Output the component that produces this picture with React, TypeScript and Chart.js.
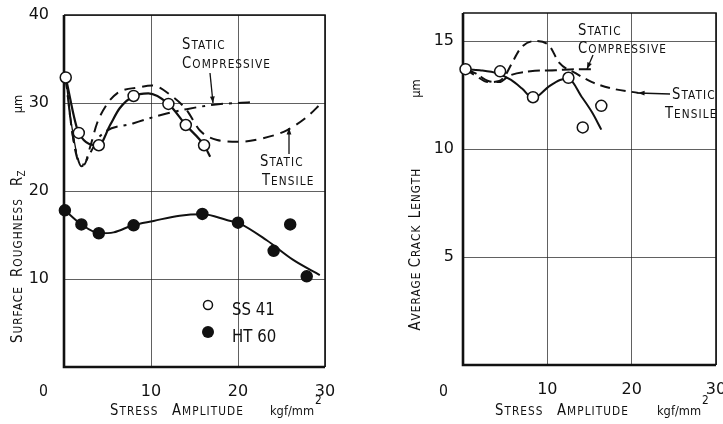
import React, { useEffect, useRef } from "react";
import { Chart, registerables } from "chart.js";

Chart.register(...registerables);

const FONT = '"DejaVu Sans", sans-serif';
const INK = "#111";
const SQUEEZE = 0.88;

// ---------- shared axis ticks ----------
const stressTicks = [10, 20, 30];
const roughTicks = [10, 20, 30, 40];
const crackTicks = [5, 10, 15];

// ---------- left panel: surface roughness Rz (μm) ----------
const ss41StressR = [0.2, 1.7, 4.0, 8.0, 12.0, 14.0, 16.1];
const ss41Rough = [32.9, 26.6, 25.2, 30.8, 29.9, 27.5, 25.2];
const ht60Stress = [0.1, 2.0, 4.0, 8.0, 15.9, 20.0, 24.1, 26.0, 27.9];
const ht60Rough = [17.8, 16.2, 15.2, 16.1, 17.4, 16.4, 13.2, 16.2, 10.3];

const ss41FitRX = [0.2, 1.7, 4.0, 5.3, 6.4, 8.0, 9.7, 12.0, 14.0, 16.1, 16.8];
const ss41FitRY = [32.9, 26.6, 25.2, 27.5, 29.4, 30.8, 31.1, 29.9, 27.5, 25.2, 23.9];
const ss41FitBX = [0.2, 0.8, 1.5];
const ss41FitBY = [32.9, 28.0, 23.9];
const ht60FitX = [0.1, 2.0, 4.1, 5.7, 7.9, 10.3, 13.3, 16.0, 18.7, 20.2, 23.3, 26.3, 29.4];
const ht60FitY = [17.8, 16.2, 15.2, 15.3, 16.1, 16.6, 17.2, 17.35, 16.7, 16.3, 14.4, 12.2, 10.45];
const tensileRX = [0.2, 0.9, 1.6, 2.3, 3.0, 3.8, 4.9, 6.1, 8.7, 10.1, 12.5, 14.1, 15.6, 17.6, 20.2, 22.9, 25.6, 27.9, 29.6];
const tensileRY = [32.9, 27.0, 23.5, 23.0, 25.0, 27.7, 29.8, 31.1, 31.8, 32.0, 30.7, 29.2, 26.9, 25.8, 25.6, 26.0, 26.9, 28.4, 30.0];
const compressRX = [0.2, 0.9, 1.5, 2.0, 3.0, 4.1, 8.0, 11.8, 14.1, 17.2, 21.4];
const compressRY = [32.9, 27.0, 24.0, 22.8, 24.3, 26.2, 27.7, 28.8, 29.3, 29.8, 30.1];

// ---------- right panel: average crack length (μm) ----------
const ss41StressC = [0.3, 4.4, 8.3, 12.5, 14.2, 16.4];
const ss41Crack = [13.7, 13.6, 12.4, 13.3, 11.0, 12.0];
const ss41FitCX = [0.3, 2.0, 4.1, 5.7, 7.0, 8.3, 10.2, 11.5, 12.5, 14.1, 15.3, 16.4];
const ss41FitCY = [13.7, 13.65, 13.5, 13.2, 12.8, 12.35, 12.9, 13.2, 13.25, 12.4, 11.7, 10.9];
const tensileCX = [0.3, 1.5, 3.0, 4.3, 5.0, 5.7, 6.9, 8.5, 10.2, 11.4, 13.4, 15.3, 17.7, 20.8];
const tensileCY = [13.7, 13.4, 13.1, 13.15, 13.4, 13.9, 14.7, 15.0, 14.8, 14.0, 13.5, 13.1, 12.8, 12.6];
const compressCX = [0.3, 1.5, 3.0, 4.3, 5.5, 8.0, 11.0, 13.5, 15.5];
const compressCY = [13.7, 13.5, 13.15, 13.1, 13.4, 13.6, 13.65, 13.7, 13.7];

function pts(xs: number[], ys: number[]) {
  return xs.map((x, i) => ({ x, y: ys[i] }));
}

function curve(xs: number[], ys: number[], dash: number[], width = 2) {
  return {
    data: pts(xs, ys),
    showLine: true,
    pointRadius: 0,
    borderColor: INK,
    borderWidth: width,
    borderDash: dash,
    cubicInterpolationMode: "monotone" as const,
    clip: false as const,
    order: 2,
  };
}

function marks(xs: number[], ys: number[], filled: boolean) {
  return {
    data: pts(xs, ys),
    showLine: false,
    pointRadius: 5.5,
    pointBackgroundColor: filled ? INK : "#fff",
    pointBorderColor: INK,
    pointBorderWidth: 1.5,
    clip: false as const,
    order: 0,
  };
}

// small-caps text: first letter big, rest small uppercase (horizontally condensed)
function sc(ctx: CanvasRenderingContext2D, text: string, x: number, y: number, big = 15, small = 12, align = "left", spacing = 1.2) {
  ctx.save();
  ctx.fillStyle = INK;
  ctx.textAlign = "left";
  ctx.textBaseline = "alphabetic";
  (ctx as any).letterSpacing = spacing + "px";
  const segs = [
    { t: text[0].toUpperCase(), s: big },
    { t: text.slice(1).toUpperCase(), s: small },
  ];
  const ws = segs.map((g) => {
    ctx.font = `${g.s}px ${FONT}`;
    return ctx.measureText(g.t).width;
  });
  const total = (ws[0] + ws[1]) * SQUEEZE;
  const x0 = align === "center" ? x - total / 2 : align === "right" ? x - total : x;
  ctx.translate(x0, y);
  ctx.scale(SQUEEZE, 1);
  let cx = 0;
  segs.forEach((g, i) => {
    ctx.font = `${g.s}px ${FONT}`;
    ctx.fillText(g.t, cx, 0);
    cx += ws[i];
  });
  ctx.restore();
}

function plain(ctx: CanvasRenderingContext2D, text: string, x: number, y: number, size: number, align: CanvasTextAlign = "left") {
  ctx.save();
  ctx.fillStyle = INK;
  ctx.font = `${size}px ${FONT}`;
  ctx.textAlign = align;
  ctx.textBaseline = "alphabetic";
  ctx.translate(x, y);
  ctx.scale(SQUEEZE, 1);
  ctx.fillText(text, 0, 0);
  ctx.restore();
}

function rotated(ctx: CanvasRenderingContext2D, cx: number, cy: number, fn: () => void) {
  ctx.save();
  ctx.translate(cx, cy);
  ctx.rotate(-Math.PI / 2);
  fn();
  ctx.restore();
}

function arrow(ctx: CanvasRenderingContext2D, x1: number, y1: number, x2: number, y2: number) {
  ctx.save();
  ctx.strokeStyle = INK;
  ctx.fillStyle = INK;
  ctx.lineWidth = 1.3;
  ctx.beginPath();
  ctx.moveTo(x1, y1);
  ctx.lineTo(x2, y2);
  ctx.stroke();
  const a = Math.atan2(y2 - y1, x2 - x1);
  const L = 7;
  ctx.beginPath();
  ctx.moveTo(x2, y2);
  ctx.lineTo(x2 - L * Math.cos(a - 0.35), y2 - L * Math.sin(a - 0.35));
  ctx.lineTo(x2 - L * Math.cos(a + 0.35), y2 - L * Math.sin(a + 0.35));
  ctx.closePath();
  ctx.fill();
  ctx.restore();
}

function xTitle(ctx: CanvasRenderingContext2D, sx: number, ax: number, kx: number) {
  sc(ctx, "Stress", sx, 415);
  sc(ctx, "Amplitude", ax, 415);
  plain(ctx, "kgf/mm", kx, 415, 13);
  ctx.save();
  ctx.font = `13px ${FONT}`;
  const w = ctx.measureText("kgf/mm").width * SQUEEZE;
  ctx.restore();
  plain(ctx, "2", kx + w + 1, 404, 12);
}

type Area = { left: number; right: number; top: number; bottom: number };

function buildChart(
  canvas: HTMLCanvasElement,
  W: number,
  H: number,
  area: Area,
  yMax: number,
  yTicks: number[],
  yPad: number,
  datasets: any[],
  extras: (ctx: CanvasRenderingContext2D, chart: any) => void
) {
  const frame = {
    id: "frame",
    beforeDatasetsDraw(chart: any) {
      const ctx = chart.ctx;
      const a = chart.chartArea;
      ctx.save();
      ctx.strokeStyle = INK;
      ctx.lineWidth = 1.6;
      ctx.beginPath();
      ctx.moveTo(a.left, a.top);
      ctx.lineTo(a.right, a.top);
      ctx.lineTo(a.right, a.bottom);
      ctx.stroke();
      ctx.lineWidth = 2.6;
      ctx.beginPath();
      ctx.moveTo(a.left, a.top);
      ctx.lineTo(a.left, a.bottom);
      ctx.lineTo(a.right, a.bottom);
      ctx.stroke();
      ctx.restore();
    },
    afterDraw(chart: any) {
      extras(chart.ctx, chart);
    },
  };
  const tickFont = { family: FONT, size: 16 };
  return new Chart(canvas, {
    type: "scatter",
    data: { datasets },
    options: {
      responsive: false,
      animation: false,
      devicePixelRatio: 1,
      layout: { padding: { top: area.top, right: W - area.right, left: 0, bottom: 0 } },
      plugins: { legend: { display: false }, tooltip: { enabled: false } },
      scales: {
        x: {
          type: "linear",
          min: 0,
          max: 30,
          afterBuildTicks: (s: any) => {
            s.ticks = stressTicks.map((v) => ({ value: v }));
          },
          afterFit: (s: any) => {
            s.height = H - area.bottom;
            s.paddingLeft = 0;
            s.paddingRight = 0;
          },
          border: { display: false },
          grid: { color: "rgba(30,30,30,0.7)", lineWidth: 1, drawTicks: false },
          ticks: { padding: 15, font: tickFont, color: INK, maxRotation: 0, autoSkip: false },
        },
        y: {
          type: "linear",
          min: 0,
          max: yMax,
          afterBuildTicks: (s: any) => {
            s.ticks = yTicks.map((v) => ({ value: v }));
          },
          afterFit: (s: any) => {
            s.width = area.left;
            s.paddingTop = 0;
            s.paddingBottom = 0;
          },
          border: { display: false },
          grid: { color: "rgba(30,30,30,0.7)", lineWidth: 1, drawTicks: false },
          ticks: { padding: yPad, font: tickFont, color: INK, autoSkip: false },
        },
      },
    } as any,
    plugins: [frame],
  });
}

export default function App() {
  const leftRef = useRef<HTMLCanvasElement>(null);
  const rightRef = useRef<HTMLCanvasElement>(null);

  useEffect(() => {
    const left = buildChart(
      leftRef.current!,
      345,
      424,
      { left: 64, right: 325, top: 15, bottom: 367 },
      40,
      roughTicks,
      15,
      [
        marks(ss41StressR, ss41Rough, false),
        marks(ht60Stress, ht60Rough, true),
        curve(ss41FitRX, ss41FitRY, [], 2.2),
        curve(ss41FitBX, ss41FitBY, [], 1.3),
        curve(ht60FitX, ht60FitY, [], 2),
        curve(tensileRX, tensileRY, [11, 7], 2),
        curve(compressRX, compressRY, [12, 6, 3, 6], 2),
      ],
      (ctx) => {
        plain(ctx, "0", 43.5, 396, 16, "center");
        sc(ctx, "Static", 182, 49);
        sc(ctx, "Compressive", 182, 68);
        arrow(ctx, 210, 73, 213, 103);
        sc(ctx, "Static", 260, 166);
        sc(ctx, "Tensile", 262, 185);
        arrow(ctx, 289, 154, 289, 128);
        // legend
        ctx.save();
        ctx.strokeStyle = INK;
        ctx.lineWidth = 1.5;
        ctx.fillStyle = "#fff";
        ctx.beginPath();
        ctx.arc(208, 305, 4.5, 0, Math.PI * 2);
        ctx.fill();
        ctx.stroke();
        ctx.fillStyle = INK;
        ctx.beginPath();
        ctx.arc(208, 332, 6, 0, Math.PI * 2);
        ctx.fill();
        ctx.restore();
        plain(ctx, "SS 41", 232, 315, 17);
        plain(ctx, "HT 60", 232, 342, 17);
        xTitle(ctx, 110, 172, 270);
        // y title
        rotated(ctx, 17, 314.5, () => sc(ctx, "Surface", 0, 5, 15, 12, "center"));
        rotated(ctx, 17, 237.5, () => sc(ctx, "Roughness", 0, 5, 15, 12, "center"));
        rotated(ctx, 17, 178.5, () => {
          plain(ctx, "R", -3, 5, 15, "center");
          plain(ctx, "Z", 5, 8, 10, "center");
        });
        rotated(ctx, 17, 104, () => plain(ctx, "μm", 0, 5, 13, "center"));
      }
    );

    const right = buildChart(
      rightRef.current!,
      343,
      424,
      { left: 83, right: 338, top: 13, bottom: 365 },
      16.3,
      crackTicks,
      9,
      [
        marks(ss41StressC, ss41Crack, false),
        curve(ss41FitCX, ss41FitCY, [], 2),
        curve(tensileCX, tensileCY, [10, 6], 2),
        curve(compressCX, compressCY, [12, 5], 2),
      ],
      (ctx) => {
        plain(ctx, "0", 63.5, 396, 16, "center");
        sc(ctx, "Static", 198, 35);
        sc(ctx, "Compressive", 198, 53);
        arrow(ctx, 213, 55, 207, 69);
        sc(ctx, "Static", 292, 99);
        sc(ctx, "Tensile", 285, 118);
        arrow(ctx, 290, 94, 258, 93);
        xTitle(ctx, 115, 177, 277);
        rotated(ctx, 35, 301, () => sc(ctx, "Average", 0, 5, 15, 12, "center"));
        rotated(ctx, 35, 246, () => sc(ctx, "Crack", 0, 5, 15, 12, "center"));
        rotated(ctx, 35, 193, () => sc(ctx, "Length", 0, 5, 15, 12, "center"));
        rotated(ctx, 35, 88.5, () => plain(ctx, "μm", 0, 5, 13, "center"));
      }
    );

    return () => {
      left.destroy();
      right.destroy();
    };
  }, []);

  return (
    <div style={{ position: "fixed", left: 0, top: 0, width: 723, height: 424, background: "#fff", overflow: "hidden" }}>
      <canvas ref={leftRef} width={345} height={424} style={{ position: "absolute", left: 0, top: 0 }} />
      <canvas ref={rightRef} width={343} height={424} style={{ position: "absolute", left: 380, top: 0 }} />
    </div>
  );
}
